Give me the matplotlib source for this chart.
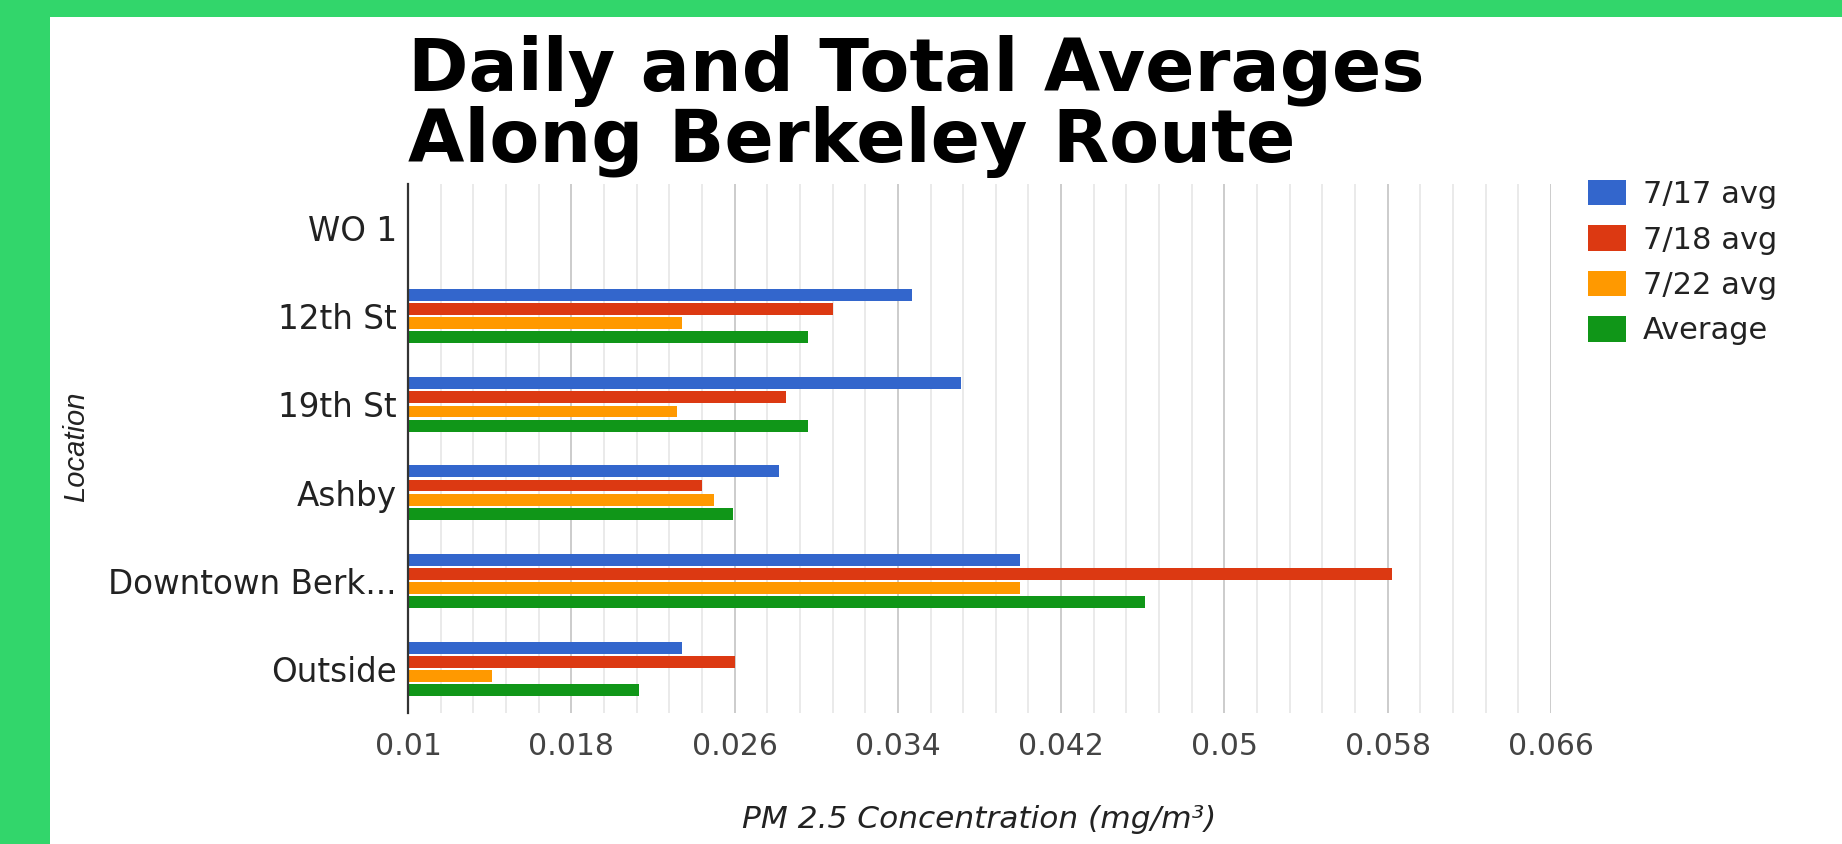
import numpy as np
import matplotlib
matplotlib.use("Agg")
from matplotlib import pyplot as plt
from matplotlib.patches import Rectangle
from matplotlib.ticker import FixedLocator

# data
locations = ["WO 1", "12th St", "19th St", "Ashby", "Downtown Berk...", "Outside"]
avg_0717 = [np.nan, 0.0347, 0.0371, 0.0282, 0.0400, 0.0234]
avg_0718 = [np.nan, 0.0308, 0.0285, 0.0244, 0.0582, 0.0260]
avg_0722 = [np.nan, 0.0234, 0.0232, 0.0250, 0.0400, 0.0141]
avg_all = [np.nan, 0.0296, 0.0296, 0.0259, 0.0461, 0.0213]
series_names = ["7/17 avg", "7/18 avg", "7/22 avg", "Average"]
series_colors = ["#3366cc", "#dc3912", "#ff9900", "#109618"]
x_ticks = [0.01, 0.018, 0.026, 0.034, 0.042, 0.05, 0.058, 0.066]
x_tick_labels = ["0.01", "0.018", "0.026", "0.034", "0.042", "0.05", "0.058", "0.066"]

W, H = 1842, 844
fig = plt.figure(figsize=(W / 100, H / 100), dpi=100)
fig.patch.set_facecolor("white")

# green frame (top and left only)
BORDER = "#32d66b"
fig.patches.append(Rectangle((0, 1 - 17 / H), 1, 17 / H, transform=fig.transFigure,
                             facecolor=BORDER, edgecolor="none", zorder=0))
fig.patches.append(Rectangle((0, 0), 50 / W, 1, transform=fig.transFigure,
                             facecolor=BORDER, edgecolor="none", zorder=0))

ax_l, ax_r, ax_t, ax_b = 408, 1551, 184, 713
ax = fig.add_axes([ax_l / W, 1 - ax_b / H, (ax_r - ax_l) / W, (ax_b - ax_t) / H])

y = np.arange(len(locations))
step = 0.16
bar_h = 0.135
all_series = [avg_0717, avg_0718, avg_0722, avg_all]
for i, (vals, name, col) in enumerate(zip(all_series, series_names, series_colors)):
    off = (i - 1.5) * step
    ax.barh(y + off, np.array(vals) - 0.01, left=0.01, height=bar_h,
            color=col, label=name, zorder=3)

ax.set_xlim(0.01, 0.066)
ax.set_ylim(len(locations) - 0.5, -0.5)

# gridlines: major every 0.008, minor every 0.0016
ax.xaxis.set_major_locator(FixedLocator(x_ticks))
ax.set_xticklabels(x_tick_labels)
minor = [0.01 + k * 0.0016 for k in range(36) if k % 5 != 0]
ax.xaxis.set_minor_locator(FixedLocator(minor))
ax.grid(True, which="major", axis="x", color="#c8c8c8", linewidth=1.3, zorder=1)
ax.grid(True, which="minor", axis="x", color="#e8e8e8", linewidth=1.3, zorder=1)
ax.set_axisbelow(True)

ax.set_yticks(y)
ax.set_yticklabels(locations)
for s in ["top", "right", "bottom"]:
    ax.spines[s].set_visible(False)
ax.spines["left"].set_color("#333333")
ax.spines["left"].set_linewidth(1.6)
ax.spines["left"].set_zorder(5)

ax.tick_params(axis="x", which="both", length=0, pad=14, labelsize=21.5,
               labelcolor="#444444")
ax.tick_params(axis="y", length=0, pad=8, labelsize=23.5, labelcolor="#222222")
for lab in ax.get_xticklabels() + ax.get_yticklabels():
    lab.set_family("DejaVu Sans")

# title
fig.text(408 / W, 1 - 35 / H, "Daily and Total Averages\nAlong Berkeley Route",
         ha="left", va="top", fontsize=52.5, fontweight="bold", family="DejaVu Sans",
         color="black", linespacing=0.99)

# axis titles
fig.text((ax_l + ax_r) / 2 / W, 1 - 828 / H, "PM 2.5 Concentration (mg/m³)",
         ha="center", va="baseline", fontsize=22.5, style="italic",
         family="DejaVu Sans", color="#222222")
fig.text(76 / W, 1 - 447 / H, "Location", rotation=90, ha="center", va="center",
         fontsize=21, style="italic", family="Liberation Sans", color="#222222")

leg = ax.legend(loc="upper left", bbox_to_anchor=(1588 / W, 1 - 180 / H),
                bbox_transform=fig.transFigure, frameon=False, borderpad=0,
                borderaxespad=0, handlelength=1.24, handleheight=0.9,
                handletextpad=0.55, labelspacing=0.53,
                prop={"family": "DejaVu Sans", "size": 22})
for t in leg.get_texts():
    t.set_color("#222222")

fig.savefig("out.png", dpi=100, facecolor=fig.get_facecolor())
